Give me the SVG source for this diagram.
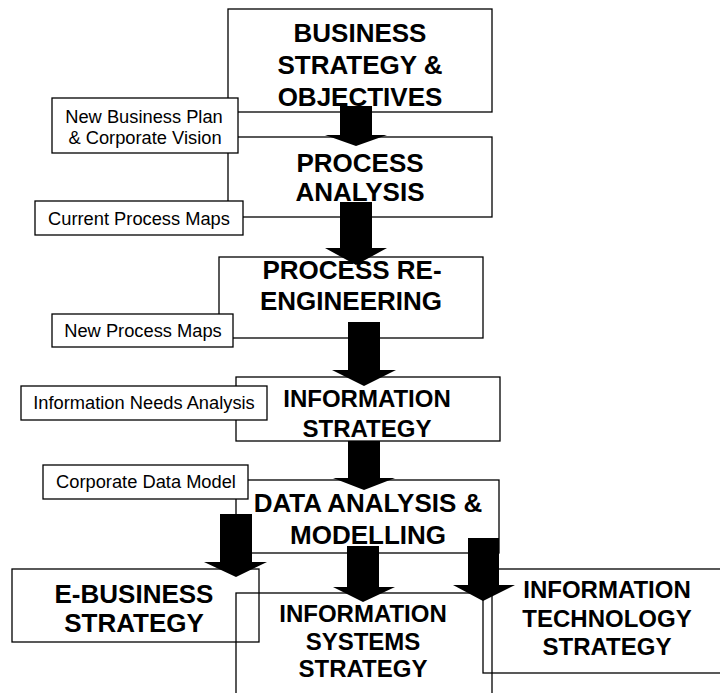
<svg xmlns="http://www.w3.org/2000/svg" width="720" height="693" viewBox="0 0 720 693">
<style>
.box{fill:none;stroke:#000;stroke-width:1.3}
.lbl{fill:#fff;stroke:#000;stroke-width:1.3}
.t{font-family:"Liberation Sans",Arial,sans-serif;font-weight:bold;text-anchor:middle;fill:#000}
.t26{font-size:26px}
.t24{font-size:24px}
.l{font-family:"Liberation Sans",Arial,sans-serif;font-size:18.3px;text-anchor:middle;fill:#000}
.arr{fill:#000;stroke:none}
</style>
<rect width="720" height="693" fill="#fff"/>
<g id="business-strategy">
<rect class="box" x="228" y="9" width="264" height="103"/>
<text class="t t26" x="360" y="42">BUSINESS</text>
<text class="t t26" x="360" y="74">STRATEGY &amp;</text>
<text class="t t26" x="360" y="106">OBJECTIVES</text>
</g>
<g id="process-analysis">
<rect class="box" x="228" y="137" width="264" height="80"/>
<text class="t t26" x="360" y="172">PROCESS</text>
<text class="t t26" x="360" y="201">ANALYSIS</text>
</g>
<g id="process-reengineering">
<rect class="box" x="219" y="257" width="264" height="81"/>
<text class="t t26" x="352" y="279">PROCESS RE-</text>
<text class="t t26" x="351" y="310">ENGINEERING</text>
</g>
<g id="information-strategy">
<rect class="box" x="236" y="377" width="264" height="64"/>
<text class="t t24" x="367" y="407">INFORMATION</text>
<text class="t t24" x="367" y="437">STRATEGY</text>
</g>
<g id="data-analysis">
<rect class="box" x="236" y="480" width="263" height="73"/>
<text class="t t26" x="368" y="512">DATA ANALYSIS &amp;</text>
<text class="t t26" x="368" y="544">MODELLING</text>
</g>
<g id="e-business">
<rect class="box" x="12" y="569" width="247" height="73"/>
<text class="t t26" x="134" y="603">E-BUSINESS</text>
<text class="t t26" x="134" y="632">STRATEGY</text>
</g>
<g id="is-strategy">
<rect class="box" x="236" y="593" width="256" height="120"/>
<text class="t t24" x="363" y="622">INFORMATION</text>
<text class="t t24" x="363" y="650">SYSTEMS</text>
<text class="t t24" x="363" y="677">STRATEGY</text>
</g>
<g id="it-strategy">
<rect class="box" x="483" y="569" width="260" height="104"/>
<text class="t t24" x="607" y="598">INFORMATION</text>
<text class="t t24" x="607" y="627">TECHNOLOGY</text>
<text class="t t24" x="607" y="655">STRATEGY</text>
</g>
<g id="label-business-plan">
<rect class="lbl" x="52" y="98" width="186" height="55"/>
<text class="l" x="144" y="123">New Business Plan</text>
<text class="l" x="145" y="144">&amp; Corporate Vision</text>
</g>
<g id="label-current-maps">
<rect class="lbl" x="35" y="201" width="208" height="34"/>
<text class="l" x="139" y="225">Current Process Maps</text>
</g>
<g id="label-new-maps">
<rect class="lbl" x="52" y="314" width="181" height="33"/>
<text class="l" x="143" y="337">New Process Maps</text>
</g>
<g id="label-info-needs">
<rect class="lbl" x="21" y="386" width="246" height="34"/>
<text class="l" x="144" y="409">Information Needs Analysis</text>
</g>
<g id="label-data-model">
<rect class="lbl" x="43" y="465" width="205" height="34"/>
<text class="l" x="146" y="488">Corporate Data Model</text>
</g>
<g id="connectors">
<polygon class="arr" points="340,106 372,106 372,135 387,135 356,146 325,135 340,135"/>
<polygon class="arr" points="340,202 372,202 372,248 387,248 356,265 325,248 340,248"/>
<polygon class="arr" points="348,322 380,322 380,370 396,370 364,386 332,370 348,370"/>
<polygon class="arr" points="348,441 380,441 380,478 395,478 364,490 333,478 348,478"/>
<polygon class="arr" points="220,514 252,514 252,562 267,562 236,577 204,562 220,562"/>
<polygon class="arr" points="347,546 379,546 379,587 395,587 363,602 333,587 347,587"/>
<polygon class="arr" points="468,538 499,538 499,585 515,585 483,601 453,585 468,585"/>
</g>
</svg>
